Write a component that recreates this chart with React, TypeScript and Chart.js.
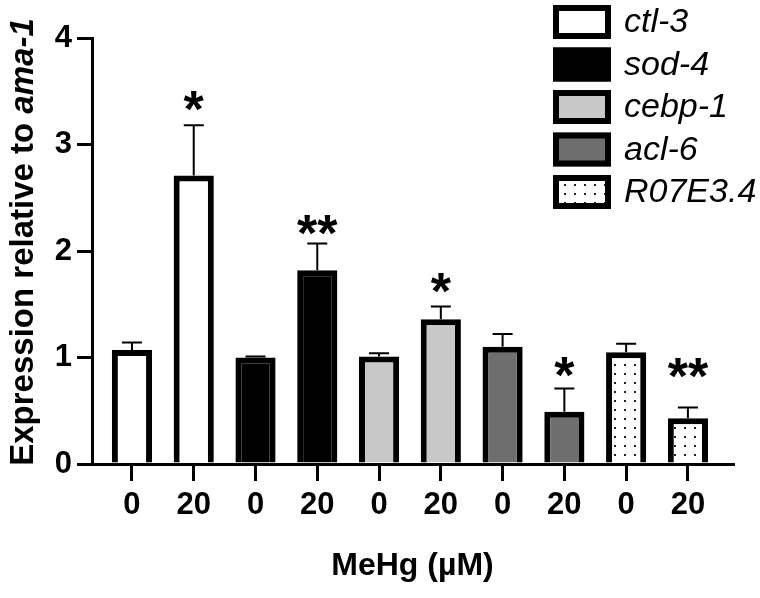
import React, { useEffect, useRef } from "react";
import { Chart, registerables } from "chart.js";

Chart.register(...registerables);

// ---- data ----
const genes = ["ctl-3", "sod-4", "cebp-1", "acl-6", "R07E3.4"];
const doses = ["0", "20"];
const mean0 = [1.07, 1.0, 1.01, 1.1, 1.05];
const mean20 = [2.71, 1.82, 1.36, 0.49, 0.43];
const sem0 = [0.07, 0.01, 0.03, 0.12, 0.08];
const sem20 = [0.47, 0.25, 0.12, 0.22, 0.1];
const sig20 = ["*", "**", "*", "*", "**"];
const sigHeight20 = [3.44, 2.27, 1.73, 0.94, 0.93];
const yTicks = [0, 1, 2, 3, 4];
const fillColors = ["#ffffff", "#000000", "#c8c8c8", "#6e6e6e", "dots"];
const yTitleMain = "Expression relative to ";
const yTitleItalic = "ama-1";
const xTitle = "MeHg (\u00B5M)";

const FONT = "'Liberation Sans', Arial, Helvetica, sans-serif";

function makeDots(): CanvasPattern | string {
  const c = document.createElement("canvas");
  c.width = 10;
  c.height = 9;
  const g = c.getContext("2d");
  if (!g) return "#ffffff";
  g.fillStyle = "#ffffff";
  g.fillRect(0, 0, 10, 9);
  g.fillStyle = "#222222";
  g.fillRect(4, 4, 2, 2);
  const p = g.createPattern(c, "repeat");
  return p || "#ffffff";
}

export default function App() {
  const ref = useRef<HTMLCanvasElement | null>(null);

  useEffect(() => {
    const canvas = ref.current;
    if (!canvas) return;
    const dots = makeDots();
    const fills = fillColors.map((c) => (c === "dots" ? dots : c));
    const positions: number[] = [];
    genes.forEach((_, g) => {
      positions.push(2 * g, 2 * g + 1);
    });

    const overlay = {
      id: "overlay",
      afterDatasetsDraw(chart: any) {
        const ctx = chart.ctx as CanvasRenderingContext2D;
        const ys = chart.scales.y;
        ctx.save();
        ctx.strokeStyle = "#000";
        ctx.lineWidth = 2;
        genes.forEach((_, g) => {
          const meta = chart.getDatasetMeta(g);
          [0, 1].forEach((j) => {
            const bar = meta.data[j];
            const m = j === 0 ? mean0[g] : mean20[g];
            const s = j === 0 ? sem0[g] : sem20[g];
            const yTop = ys.getPixelForValue(m + s);
            const yV = ys.getPixelForValue(m);
            ctx.beginPath();
            ctx.moveTo(bar.x, yV);
            ctx.lineTo(bar.x, yTop);
            ctx.moveTo(bar.x - 10, yTop);
            ctx.lineTo(bar.x + 10, yTop);
            ctx.stroke();
          });
          const b20 = meta.data[1];
          if (sig20[g]) {
            ctx.fillStyle = "#000";
            ctx.font = `bold 52px ${FONT}`;
            ctx.textAlign = "center";
            ctx.textBaseline = "alphabetic";
            ctx.fillText(sig20[g], b20.x, ys.getPixelForValue(sigHeight20[g]) + 29);
          }
        });
        ctx.restore();
      },
      afterDraw(chart: any) {
        const ctx = chart.ctx as CanvasRenderingContext2D;
        ctx.save();
        // legend
        const lx = 553;
        const ly0 = 5;
        const pitch = 42.5;
        const bw = 58;
        const bh = 34;
        chart.data.datasets.forEach((ds: any, i: number) => {
          const y = ly0 + i * pitch;
          ctx.fillStyle = ds.backgroundColor;
          ctx.fillRect(lx, y, bw, bh);
          ctx.lineWidth = 6;
          ctx.strokeStyle = "#000";
          ctx.strokeRect(lx + 3, y + 3, bw - 6, bh - 6);
          ctx.fillStyle = "#000";
          ctx.font = `italic 34px ${FONT}`;
          ctx.textAlign = "left";
          ctx.textBaseline = "middle";
          ctx.fillText(ds.label, 624, y + bh / 2 + 1);
        });
        // y title
        ctx.translate(24, 242);
        ctx.rotate(-Math.PI / 2);
        ctx.font = `bold 33px ${FONT}`;
        const w1 = ctx.measureText(yTitleMain).width;
        ctx.font = `italic bold 33px ${FONT}`;
        const w2 = ctx.measureText(yTitleItalic).width;
        const start = -(w1 + w2) / 2;
        ctx.textAlign = "left";
        ctx.textBaseline = "middle";
        ctx.fillStyle = "#000";
        ctx.font = `bold 33px ${FONT}`;
        ctx.fillText(yTitleMain, start, 0);
        ctx.font = `italic bold 33px ${FONT}`;
        ctx.fillText(yTitleItalic, start + w1, 0);
        ctx.restore();
      },
    };

    const chart = new Chart(canvas, {
      type: "bar",
      data: {
        datasets: genes.map((g, i) => ({
          label: g,
          data: [
            { x: 2 * i, y: mean0[i] },
            { x: 2 * i + 1, y: mean20[i] },
          ],
          backgroundColor: fills[i] as any,
          borderColor: "#000",
          borderWidth: 6,
          grouped: false,
          categoryPercentage: 1,
          barPercentage: 0.65,
        })),
      },
      options: {
        responsive: false,
        animation: false,
        layout: { padding: { top: 38, right: 27, left: 0, bottom: 0 } },
        plugins: { legend: { display: false }, tooltip: { enabled: false } },
        scales: {
          x: {
            type: "linear",
            offset: false,
            min: -0.647,
            max: 9.73,
            afterBuildTicks: (s: any) => {
              s.ticks = positions.map((v) => ({ value: v }));
            },
            afterFit: (s: any) => {
              s.height = 134;
            },
            ticks: {
              autoSkip: false,
              maxRotation: 0,
              padding: 6,
              color: "#000",
              font: { family: FONT, size: 31, weight: "bold" },
              callback: (v: any) => doses[Math.round(Number(v)) % 2],
            },
            grid: {
              offset: false,
              drawOnChartArea: false,
              drawTicks: true,
              tickLength: 17,
              lineWidth: 3,
              color: "#000",
            },
            border: { display: true, width: 3, color: "#000" },
            title: {
              display: true,
              text: xTitle,
              color: "#000",
              font: { family: FONT, size: 32, weight: "bold" },
              padding: { top: 0, bottom: 13 },
            },
          },
          y: {
            min: 0,
            max: 4,
            afterBuildTicks: (s: any) => {
              s.ticks = yTicks.map((v) => ({ value: v }));
            },
            afterFit: (s: any) => {
              s.width = 92;
            },
            ticks: {
              padding: 5,
              color: "#000",
              font: { family: FONT, size: 31, weight: "bold" },
            },
            grid: { drawOnChartArea: false, drawTicks: true, tickLength: 15, lineWidth: 3, color: "#000" },
            border: { display: true, width: 3, color: "#000" },
          },
        },
      } as any,
      plugins: [overlay],
    });
    return () => chart.destroy();
  }, []);

  return (
    <div style={{ position: "fixed", left: 0, top: 0, width: 760, height: 598, background: "#fff" }}>
      <canvas ref={ref} width={760} height={598} style={{ display: "block" }} />
    </div>
  );
}
